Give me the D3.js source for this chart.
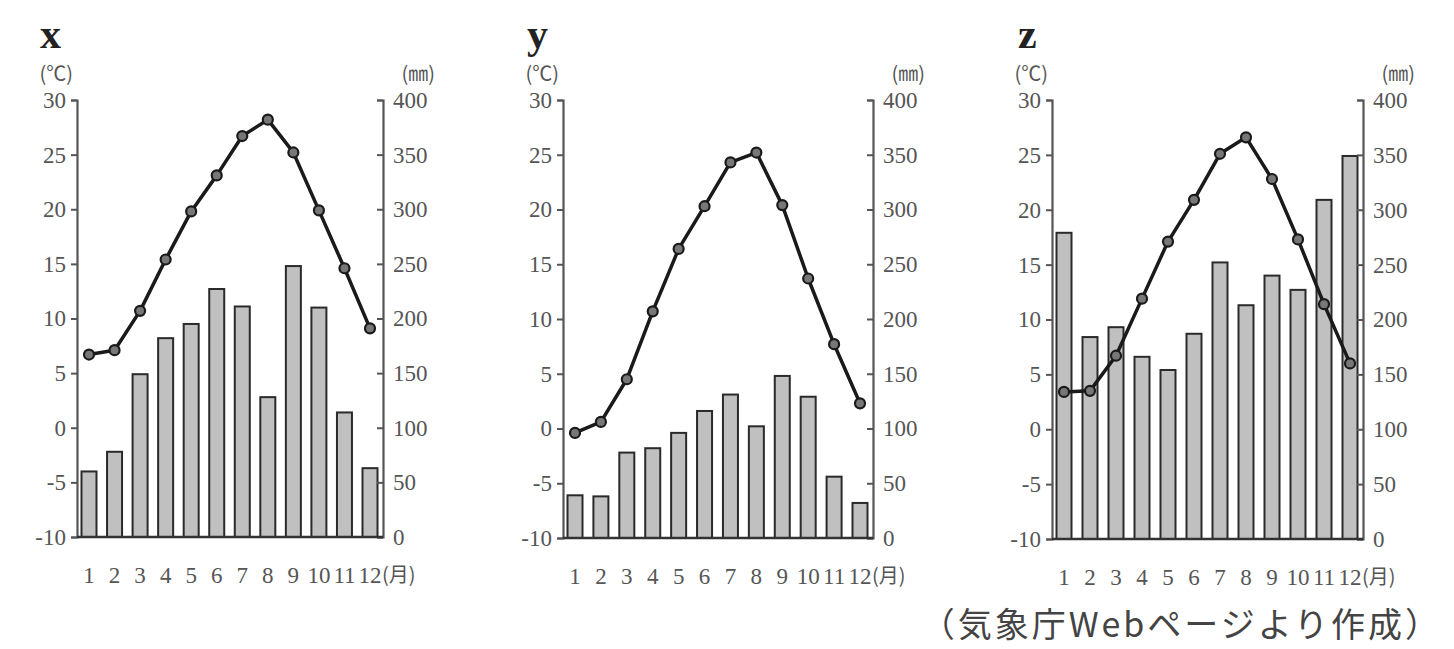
<!DOCTYPE html>
<html><head><meta charset="utf-8">
<script src="https://cdn.jsdelivr.net/npm/d3@7"></script>
<style>body{margin:0;background:#fff}svg{display:block}</style>
</head><body>
<svg id="c" width="1454" height="649"></svg>
<script>
const months = [1,2,3,4,5,6,7,8,9,10,11,12];
const panelNames = ["x","y","z"];
const tempX = [6.7,7.1,10.7,15.4,19.8,23.1,26.7,28.2,25.2,19.9,14.6,9.1];
const precX = [60,78,149,182,195,227,211,128,248,210,114,63];
const tempY = [-0.4,0.6,4.5,10.7,16.4,20.3,24.3,25.2,20.4,13.7,7.7,2.3];
const precY = [39,38,78,82,96,116,131,102,148,129,56,32];
const tempZ = [3.4,3.5,6.7,11.9,17.1,20.9,25.1,26.6,22.8,17.3,11.4,6.0];
const precZ = [279,184,193,166,154,187,252,213,240,227,309,349];
const tempTicks = [-10,-5,0,5,10,15,20,25,30];
const precTicks = [0,50,100,150,200,250,300,350,400];
const tempUnit = "(℃)", precUnit = "(㎜)", monthUnit = "(月)";
const source = "（気象庁Webページより作成）";

const panels = [
  {name:panelNames[0], temp:tempX, prec:precX, left:77,  right:383,  top:100, bottom:537, tx:40},
  {name:panelNames[1], temp:tempY, prec:precY, left:563, right:873,  top:100, bottom:538, tx:527},
  {name:panelNames[2], temp:tempZ, prec:precZ, left:1052,right:1363, top:100, bottom:539, tx:1018}
];
const svg = d3.select("#c");
const serif = "'Liberation Serif','DejaVu Serif',serif";
const cjk = "'Noto Sans CJK JP',sans-serif";
const labelCol = "#555";

panels.forEach(p => {
  const g = svg.append("g");
  const x = d3.scalePoint().domain(months).range([p.left+12, p.right-13]);
  const yT = d3.scaleLinear().domain([-10,30]).range([p.bottom, p.top]);
  const yP = d3.scaleLinear().domain([0,400]).range([p.bottom, p.top]);

  g.selectAll("rect.bar").data(p.prec).join("rect")
    .attr("x",(d,i)=>x(months[i])-7.5).attr("width",15)
    .attr("y",d=>yP(d)).attr("height",d=>yP(0)-yP(d))
    .attr("fill","#c0c0c0").attr("stroke","#2a2a2a").attr("stroke-width",2);

  const la = g.append("g").attr("transform",`translate(${p.left},0)`)
    .call(d3.axisLeft(yT).tickValues(tempTicks).tickSize(6).tickPadding(5).tickFormat(d=>d<0?"-"+Math.abs(d):d));
  const ra = g.append("g").attr("transform",`translate(${p.right},0)`)
    .call(d3.axisRight(yP).tickValues(precTicks).tickSize(-6).tickPadding(10));
  [la,ra].forEach(a=>{
    a.select(".domain").attr("stroke","#555").attr("stroke-width",2.2);
    a.selectAll(".tick line").attr("stroke","#555").attr("stroke-width",2);
    a.selectAll("text").attr("font-family",serif).attr("font-size",23).attr("fill",labelCol);
  });
  g.append("line").attr("x1",p.left).attr("x2",p.right).attr("y1",p.bottom).attr("y2",p.bottom)
    .attr("stroke","#333").attr("stroke-width",2.5);

  g.selectAll("text.m").data(months).join("text").attr("class","m")
    .attr("x",d=>x(d)).attr("y",p.bottom+46).attr("text-anchor","middle")
    .attr("font-family",serif).attr("font-size",23).attr("fill",labelCol).text(d=>d);
  g.append("text").attr("x",x(12)+12).attr("y",p.bottom+45)
    .attr("font-family",cjk).attr("font-size",20).attr("fill",labelCol).text(monthUnit);

  const line = d3.line().x((d,i)=>x(months[i])).y(d=>yT(d));
  g.append("path").datum(p.temp).attr("d",line).attr("fill","none")
    .attr("stroke","#1a1a1a").attr("stroke-width",3.5).attr("stroke-linejoin","round");
  g.selectAll("circle").data(p.temp).join("circle")
    .attr("cx",(d,i)=>x(months[i])).attr("cy",d=>yT(d)).attr("r",5)
    .attr("fill","#777").attr("stroke","#1a1a1a").attr("stroke-width",2.2);

  g.append("text").attr("x",p.left-4).attr("y",p.top-19).attr("text-anchor","end")
    .attr("font-family",cjk).attr("font-size",20).attr("fill",labelCol).text(tempUnit);
  g.append("text").attr("x",p.right+52).attr("y",p.top-19).attr("text-anchor","end")
    .attr("font-family",cjk).attr("font-size",20).attr("fill",labelCol).text(precUnit);

  g.append("text").attr("x",p.tx).attr("y",48).attr("font-family",serif).attr("font-weight","bold")
    .attr("font-size",42).attr("fill","#222").text(p.name);
});

svg.append("text").attr("x",1442).attr("y",637).attr("text-anchor","end")
  .attr("font-family",cjk).attr("font-size",34).attr("letter-spacing",3).attr("fill","#444").text(source);
</script>
</body></html>
